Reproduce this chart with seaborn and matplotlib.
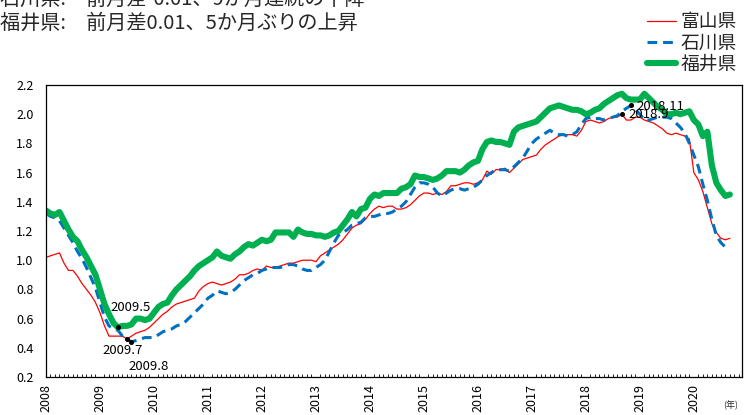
import matplotlib
matplotlib.use("Agg")
import matplotlib.pyplot as plt
from matplotlib.ticker import MultipleLocator, FixedLocator, FormatStrFormatter
import numpy as np
import pandas as pd
import seaborn as sns

# 有効求人倍率（季節調整値）、2008年1月〜2020年9月の月次
years = [str(y) for y in range(2008, 2021)]
months_per_year = 12

toyama = [
    1.02, 1.03, 1.04, 1.05, 0.98, 0.93, 0.93, 0.89, 0.84, 0.80, 0.76, 0.71,
    0.64, 0.55, 0.48, 0.48, 0.48, 0.48, 0.46, 0.48, 0.50, 0.51, 0.52, 0.54,
    0.57, 0.60, 0.63, 0.65, 0.68, 0.70, 0.71, 0.72, 0.73, 0.74, 0.79, 0.82,
    0.84, 0.85, 0.84, 0.83, 0.84, 0.85, 0.87, 0.90, 0.90, 0.91, 0.93, 0.94,
    0.93, 0.96, 0.95, 0.95, 0.96, 0.97, 0.98, 0.98, 0.99, 1.00, 1.00, 1.00,
    0.99, 1.03, 1.05, 1.07, 1.09, 1.11, 1.14, 1.18, 1.22, 1.24, 1.25, 1.28,
    1.32, 1.35, 1.37, 1.36, 1.37, 1.37, 1.35, 1.35, 1.36, 1.38, 1.41, 1.44,
    1.46, 1.46, 1.45, 1.46, 1.45, 1.47, 1.51, 1.51, 1.52, 1.53, 1.53, 1.52,
    1.53, 1.55, 1.61, 1.59, 1.62, 1.62, 1.63, 1.60, 1.63, 1.66, 1.69, 1.70,
    1.71, 1.72, 1.76, 1.79, 1.81, 1.83, 1.85, 1.86, 1.86, 1.86, 1.85, 1.89,
    1.95, 1.96, 1.95, 1.94, 1.95, 1.97, 1.98, 1.98, 2.00, 1.96, 1.96, 1.98,
    1.98, 1.96, 1.95, 1.94, 1.92, 1.90, 1.87, 1.86, 1.87, 1.86, 1.85, 1.83,
    1.60, 1.55, 1.47, 1.36, 1.25, 1.19, 1.15, 1.14, 1.15,
]

ishikawa = [
    1.32, 1.30, 1.29, 1.27, 1.22, 1.17, 1.12, 1.06, 1.01, 0.95, 0.88, 0.81,
    0.71, 0.61, 0.55, 0.53, 0.52, 0.48, 0.46, 0.44, 0.45, 0.46, 0.47, 0.47,
    0.47, 0.49, 0.51, 0.52, 0.53, 0.55, 0.56, 0.58, 0.61, 0.64, 0.67, 0.70,
    0.74, 0.76, 0.79, 0.78, 0.77, 0.78, 0.80, 0.83, 0.86, 0.88, 0.90, 0.91,
    0.93, 0.94, 0.95, 0.95, 0.95, 0.96, 0.97, 0.97, 0.96, 0.94, 0.93, 0.93,
    0.95, 0.97, 1.00, 1.06, 1.12, 1.17, 1.19, 1.21, 1.24, 1.25, 1.26, 1.29,
    1.30, 1.30, 1.31, 1.32, 1.32, 1.33, 1.35, 1.37, 1.40, 1.45, 1.50, 1.53,
    1.53, 1.52, 1.50, 1.46, 1.44, 1.46, 1.48, 1.49, 1.49, 1.48, 1.49, 1.50,
    1.52, 1.55, 1.58, 1.60, 1.62, 1.62, 1.62, 1.61, 1.64, 1.67, 1.70, 1.75,
    1.80, 1.83, 1.85, 1.87, 1.89, 1.87, 1.86, 1.86, 1.85, 1.86, 1.88, 1.93,
    1.97, 1.98, 1.97, 1.97, 1.96, 1.97, 1.98, 1.99, 2.02, 2.04, 2.06, 2.03,
    2.00, 1.96, 1.96, 1.97, 1.98, 1.98, 1.98, 1.97, 1.94, 1.91, 1.87, 1.80,
    1.72, 1.64, 1.52, 1.41, 1.28, 1.17, 1.12, 1.09, 1.08,
]

fukui = [
    1.34, 1.32, 1.31, 1.33, 1.27, 1.21, 1.16, 1.13, 1.07, 1.02, 0.96, 0.90,
    0.80, 0.70, 0.63, 0.57, 0.54, 0.55, 0.55, 0.56, 0.60, 0.60, 0.59, 0.60,
    0.64, 0.68, 0.70, 0.71, 0.76, 0.80, 0.83, 0.86, 0.89, 0.93, 0.96, 0.98,
    1.00, 1.02, 1.06, 1.03, 1.02, 1.01, 1.04, 1.06, 1.09, 1.11, 1.10, 1.12,
    1.14, 1.13, 1.14, 1.19, 1.19, 1.19, 1.19, 1.16, 1.21, 1.19, 1.18, 1.18,
    1.17, 1.17, 1.16, 1.17, 1.19, 1.20, 1.24, 1.28, 1.33, 1.30, 1.35, 1.36,
    1.42, 1.45, 1.44, 1.46, 1.46, 1.46, 1.46, 1.49, 1.50, 1.52, 1.58, 1.57,
    1.57, 1.56, 1.55, 1.56, 1.58, 1.61, 1.61, 1.61, 1.60, 1.62, 1.65, 1.67,
    1.68, 1.76, 1.81, 1.82, 1.81, 1.81, 1.80, 1.79, 1.88, 1.91, 1.92, 1.93,
    1.94, 1.95, 1.98, 2.01, 2.04, 2.05, 2.06, 2.05, 2.04, 2.03, 2.03, 2.02,
    2.00, 2.01, 2.03, 2.04, 2.07, 2.09, 2.11, 2.13, 2.14, 2.11, 2.10, 2.10,
    2.10, 2.14, 2.11, 2.08, 2.05, 2.03, 2.00, 2.00, 2.01, 2.00, 2.01, 2.02,
    1.96, 1.93, 1.85, 1.88, 1.65, 1.53, 1.48, 1.44, 1.45,
]

# 注記：（系列, 月番号, ラベル）
notes = [
    ("fukui", 16, "2009.5"),
    ("toyama", 18, "2009.7"),
    ("ishikawa", 19, "2009.8"),
    ("toyama", 128, "2018.9"),
    ("ishikawa", 130, "2018.11"),
]

sns.set_style("white")
plt.rcParams["font.family"] = ["Noto Sans CJK JP", "DejaVu Sans"]
plt.rcParams["axes.unicode_minus"] = False

month = np.arange(len(toyama))
df = pd.DataFrame({"month": month, "toyama": toyama,
                   "ishikawa": ishikawa, "fukui": fukui})

W, H = 745, 415
fig = plt.figure(figsize=(W / 100, H / 100), dpi=100)
ax = fig.add_axes([46 / W, 1 - 377 / H, (742 - 46) / W, (377 - 85) / H])

sns.lineplot(data=df, x="month", y="toyama", ax=ax, color="#ff0000",
             linewidth=0.9, label="富山県")
sns.lineplot(data=df, x="month", y="ishikawa", ax=ax, color="#0070c0",
             linewidth=2.2, label="石川県")
ax.lines[-1].set_dashes((3.2, 1.9))
sns.lineplot(data=df, x="month", y="fukui", ax=ax, color="#00b050",
             linewidth=4.4, label="福井県")

# 注記点とラベル
series = {"toyama": toyama, "ishikawa": ishikawa, "fukui": fukui}
offsets = {
    "2009.5": ((9.4, 14.4), "center"),
    "2009.7": ((-2.9, -8.0), "center"),
    "2009.8": ((12.6, -18.0), "center"),
    "2018.9": ((5.0, 0.0), "left"),
    "2018.11": ((4.3, -1.0), "left"),
}
for key, m, lab in notes:
    v = series[key][m]
    ax.plot([m], [v], marker="o", ms=2.6, color="black", zorder=5)
    off, ha = offsets[lab]
    ax.annotate(lab, xy=(m, v), xytext=off, textcoords="offset points",
                ha=ha, va="center", fontsize=9.5, color="black", zorder=6)

ax.set_xlim(0, 154.7)
ax.set_ylim(0.2, 2.2)
ax.yaxis.set_major_locator(MultipleLocator(0.2))
ax.yaxis.set_major_formatter(FormatStrFormatter("%.1f"))
ax.xaxis.set_major_locator(FixedLocator([i * months_per_year for i in range(len(years))]))
ax.set_xticklabels(years, rotation=90)
ax.xaxis.set_minor_locator(MultipleLocator(1))

ax.tick_params(axis="both", which="both", direction="in", colors="black",
               labelsize=9)
ax.tick_params(axis="y", which="major", length=3, width=0.8, pad=9)
ax.tick_params(axis="x", which="major", length=4.5, width=0.8, pad=5)
ax.tick_params(axis="x", which="minor", length=2.5, width=0.6, bottom=True)
for s in ax.spines.values():
    s.set_visible(True)
    s.set_color("black")
    s.set_linewidth(0.9)
ax.set_xlabel("")
ax.set_ylabel("")

leg = ax.legend(loc="upper right", bbox_to_anchor=(746 / W, 1 - 2 / H),
                bbox_transform=fig.transFigure, frameon=False, fontsize=13.5,
                handlelength=1.55, handletextpad=0.25, labelspacing=0.0,
                borderpad=0.0)

fig.text(0.0, 1 - (-1) / H, "石川県:\u3000前月差-0.01、9か月連続の下降",
         fontsize=14.5, ha="left", va="center")
fig.text(0.0, 1 - 23 / H, "福井県:\u3000前月差0.01、5か月ぶりの上昇",
         fontsize=14.5, ha="left", va="center")
fig.text(731 / W, 1 - 405 / H, "(年)", fontsize=6.5, ha="center", va="center")

fig.savefig("out.png", dpi=100, facecolor="white")
